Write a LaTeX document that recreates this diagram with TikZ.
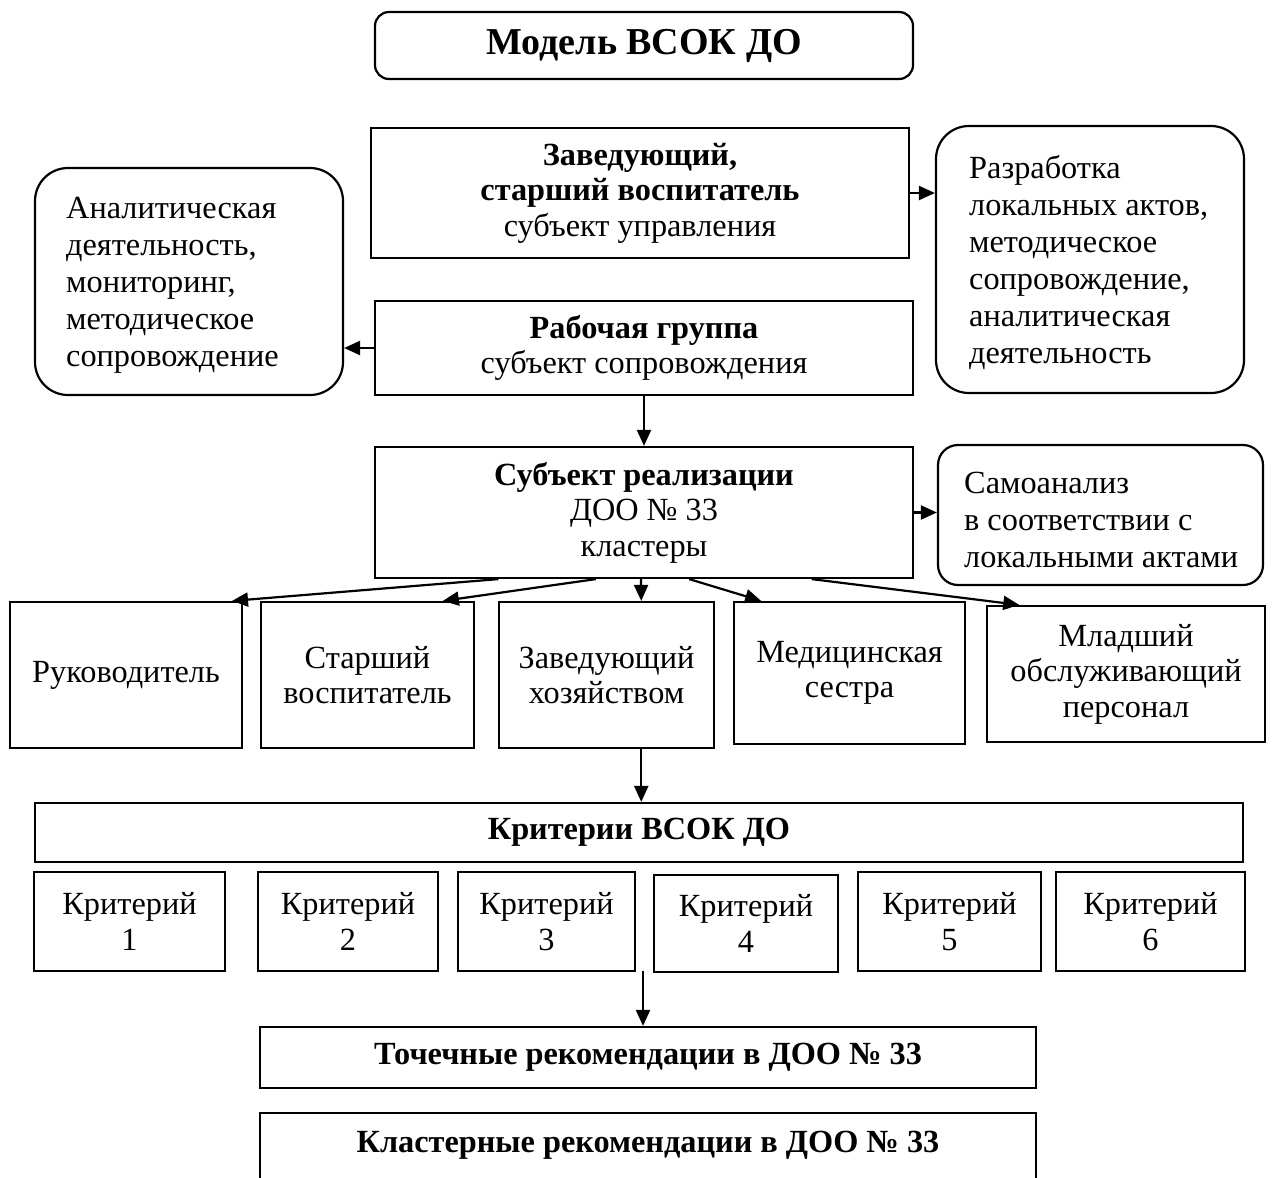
\documentclass[tikz,border=0pt]{standalone}
\usepackage{fontspec}
\setmainfont{Liberation Serif}
\usetikzlibrary{arrows.meta,calc}
\tikzset{
  base/.style={font=\fontsize{32.3}{35.5}\selectfont, inner sep=0pt, align=center},
  box/.style={base, draw, line width=2.2pt, rectangle},
  rbox/.style={box, rounded corners=#1},
  txt/.style={base, font=\fontsize{32.3}{37}\selectfont, align=left, anchor=west},
  arr/.style={line width=2.2pt, -{Triangle[length=16pt,width=14pt]}},
}
\begin{document}
\begin{tikzpicture}[x=1pt,y=-1pt]
\useasboundingbox (0,0) rectangle (1272,1178);

% top
\node[rbox=14pt, minimum width=538pt, minimum height=67pt, font=\fontsize{38}{42}\selectfont\bfseries] (title) at (644,45.5) {Модель ВСОК ДО};
\node[box, minimum width=538pt, minimum height=130pt] (zav) at (640,193) {\textbf{Заведующий,}\\\textbf{старший воспитатель}\\субъект управления};
\node[box, minimum width=538pt, minimum height=94pt] (rab) at (644,348) {\textbf{Рабочая группа}\\субъект сопровождения};
\node[rbox=33pt, minimum width=308pt, minimum height=227pt] (rleft) at (189,281.5) {};
\node[txt] (rlefttxt) at (66,285) {Аналитическая\\деятельность,\\мониторинг,\\методическое\\сопровождение};
\node[rbox=33pt, minimum width=308pt, minimum height=267pt] (rright) at (1090,259.5) {};
\node[txt] (rrighttxt) at (969,263) {Разработка\\локальных актов,\\методическое\\сопровождение,\\аналитическая\\деятельность};

\node[box, minimum width=538pt, minimum height=131pt] (subj) at (644,512.5) {\textbf{Субъект реализации}\\ДОО № 33\\кластеры};
\node[rbox=20pt, minimum width=325pt, minimum height=140pt] (samo) at (1100.5,515) {};
\node[txt] (samotxt) at (964,520) {Самоанализ\\в соответствии с\\локальными актами};

% row of staff
\node[box, minimum width=232pt, minimum height=146pt] (r1) at (126,675) {Руководитель};
\node[box, minimum width=213pt, minimum height=146pt] (r2) at (367.5,675) {Старший\\воспитатель};
\node[box, minimum width=215pt, minimum height=146pt] (r3) at (606.5,675) {Заведующий\\хозяйством};
\node[box, minimum width=231pt, minimum height=142pt] (r4) at (849.5,673) {Медицинская\\сестра};
\node[box, minimum width=278pt, minimum height=136pt] (r5) at (1126,674) {Младший\\обслуживающий\\персонал};

% criteria
\node[box, minimum width=1208pt, minimum height=59pt] (crit) at (639,832.5) {\textbf{Критерии ВСОК ДО}};
\node[box, minimum width=191pt, minimum height=99pt] (k1) at (129.5,921.5) {Критерий\\1};
\node[box, minimum width=180pt, minimum height=99pt] (k2) at (348,921.5) {Критерий\\2};
\node[box, minimum width=177pt, minimum height=99pt] (k3) at (546.5,921.5) {Критерий\\3};
\node[box, minimum width=184pt, minimum height=97pt] (k4) at (746,923.5) {Критерий\\4};
\node[box, minimum width=183pt, minimum height=99pt] (k5) at (949.5,921.5) {Критерий\\5};
\node[box, minimum width=189pt, minimum height=99pt] (k6) at (1150.5,921.5) {Критерий\\6};

% recommendations
\node[box, minimum width=776pt, minimum height=61pt] (toch) at (648,1057.5) {\textbf{Точечные рекомендации в ДОО № 33}};
\node[base, minimum width=776pt, minimum height=65pt] (klast) at (648,1145.5) {\textbf{Кластерные рекомендации в ДОО № 33}};
\draw[line width=2.2pt] (klast.south west) -- (klast.north west) -- (klast.north east) -- (klast.south east);

% connectors
\draw[arr] (zav.east) -- (zav.east -| rright.west);
\draw[arr] (rab.west) -- (rab.west -| rleft.east);
\draw[arr] (rab.south) -- (subj.north);
\draw[arr] (subj.east) -- (subj.east -| samo.west);

\draw[arr] ($(subj.south west)!0.2305!(subj.south east)$) -- ($(r1.north west)!0.9526!(r1.north east)$);
\draw[arr] ($(subj.south west)!0.4108!(subj.south east)$) -- ($(r2.north west)!0.85!(r2.north east)$);
\draw[arr] ($(subj.south west)!0.4944!(subj.south east)$) -- ($(r3.north west)!0.66!(r3.north east)$);
\draw[arr] ($(subj.south west)!0.5836!(subj.south east)$) -- ($(r4.north west)!0.121!(r4.north east)$);
\draw[arr] ($(subj.south west)!0.8104!(subj.south east)$) -- ($(r5.north west)!0.119!(r5.north east)$);

\coordinate (r3out) at ($(r3.south west)!0.66!(r3.south east)$);
\draw[arr] (r3out) -- (r3out |- crit.north);

\coordinate (kout) at (643,971);
\draw[arr] (kout) -- (kout |- toch.north);
\end{tikzpicture}
\end{document}
